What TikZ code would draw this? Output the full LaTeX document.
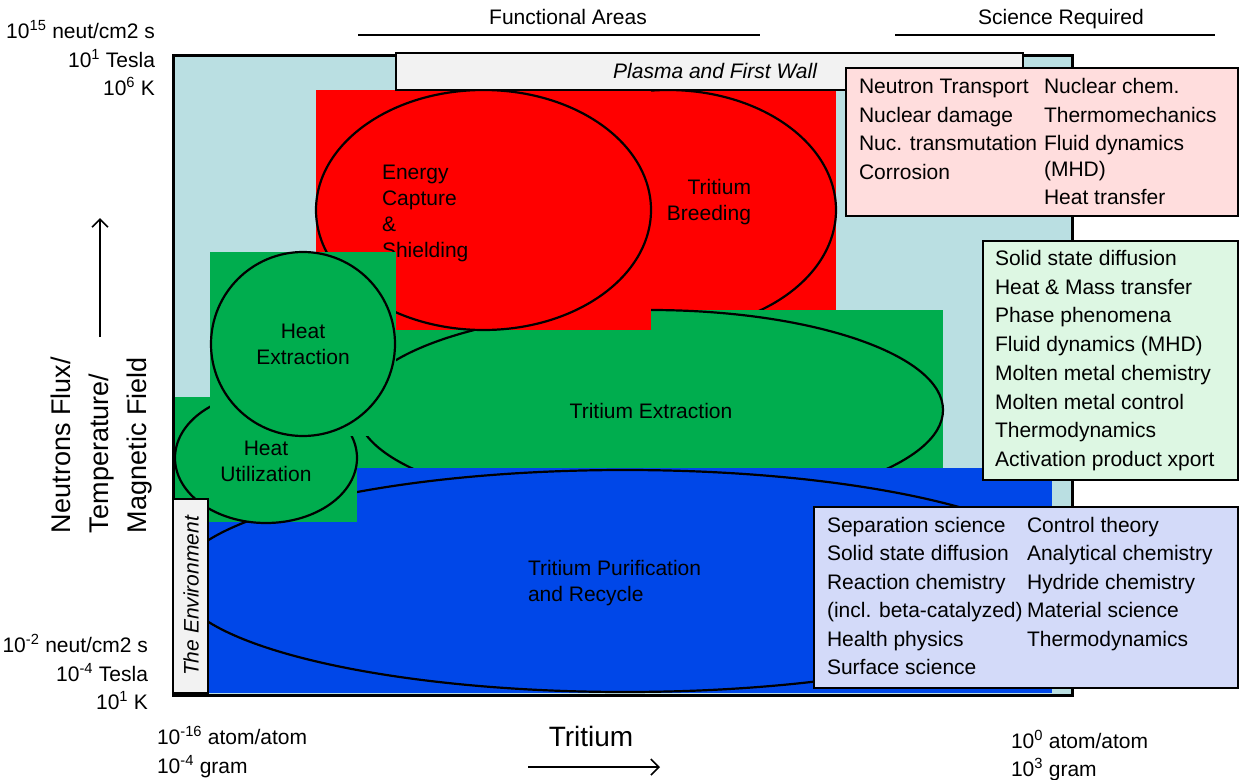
\documentclass[tikz,border=0pt]{standalone}
\usepackage{fontspec}
\setmainfont{Liberation Sans}
\usetikzlibrary{arrows.meta, shapes.geometric, positioning}
\definecolor{frameblue}{HTML}{BADFE2}
\definecolor{hotred}{HTML}{FF0000}
\definecolor{loopgreen}{HTML}{00AD4E}
\definecolor{purblue}{HTML}{0047E8}
\definecolor{wallgray}{HTML}{F2F2F2}
\definecolor{scipink}{HTML}{FFDDDD}
\definecolor{scigreen}{HTML}{DDF7E3}
\definecolor{sciblue}{HTML}{D3DAF9}
\newcommand{\zonefill}[5]
{
	\fill[#1] (#2, #3) rectangle (#4, #5)
}

\begin{document}
\begin{tikzpicture}[x=1pt, y=-1pt,
	every node/.append style={inner sep=0pt, outer sep=0pt},
	blob/.style={shape=ellipse, draw=black, line width=2.2pt},
	txt/.style={font=\fontsize{21}{26}\selectfont},
	list/.style={font=\fontsize{21}{28.5}\selectfont, align=left, anchor=base west},
	panel/.style={draw=black, line width=2.2pt}]

	\useasboundingbox (0, 0) rectangle (1239, 779);

	% frame
	\draw[fill=frameblue, line width=3pt] (173, 55) rectangle (1072, 695);

	\zonefill{hotred}{500}{90}{836}{330};
	\node[blob, fill=hotred, minimum width=336pt, minimum height=240pt] at (668, 210) (breed){};
	\node[txt, align=right, anchor=base east] at (751, 220.5) (breedtext){Tritium\\Breeding};

	\zonefill{loopgreen}{357}{310}{943}{510};
	\node[blob, fill=loopgreen, minimum width=586pt, minimum height=200pt] at (650, 410) (textr){};
	\node[txt] at (651, 411) (textrtext){Tritium Extraction};

	\zonefill{hotred}{316}{90}{651}{330};
	\node[blob, fill=hotred, minimum width=335pt, minimum height=240pt] at (483.5, 210) (ecap){};
	\node[txt, align=left, anchor=base west] at (382, 257.5) (ecaptext){Energy\\Capture\\\&\\Shielding};

	\zonefill{purblue}{177}{468}{1052}{693};
	\node[blob, minimum width=896pt, minimum height=222pt] at (625, 581) (tpur){};
	\node[txt, align=left, anchor=base west] at (528, 601.5) (tpurtext){Tritium Purification\\and Recycle};

	\zonefill{loopgreen}{175}{397}{357}{522};
	\node[blob, fill=loopgreen, minimum width=182pt, minimum height=130pt] at (266, 458) (hutil){};
	\node[txt, align=center, anchor=base] at (266, 481.5) (hutiltext){Heat\\Utilization};

	\zonefill{loopgreen}{210}{252}{396}{436};
	\node[blob, shape=circle, fill=loopgreen, minimum size=184pt] at (303, 344) (hext){};
	\node[txt, align=center, anchor=base] at (303, 364.5) (hexttext){Heat\\Extraction};

	% walls
	\draw[panel, fill=wallgray, line width=2pt] (396, 53) rectangle (1023, 90);
	\node[txt, anchor=base east, font=\fontsize{21}{26}\selectfont\itshape] at (817, 78.5) (wall){Plasma and First Wall};
	\draw[panel, fill=wallgray] (173, 499) rectangle (208, 693);
	\node[txt, rotate=90, font=\fontsize{21}{26}\selectfont\itshape] at (191, 596) (env){The Environment};

	% science
	\draw[panel, fill=scipink] (846, 68) rectangle (1238, 216);
	\node[list] at (859, 179) (pinka){Neutron Transport\\Nuclear damage\\Nuc. transmutation\\Corrosion};
	\node[list] at (1044, 204.5) (pinkb){Nuclear chem.\\Thermomechanics\\Fluid dynamics\\[-3pt](MHD)\\Heat transfer};

	\draw[panel, fill=scigreen] (983, 241) rectangle (1238, 480);
	\node[list, font=\fontsize{21}{28.7}\selectfont] at (995, 466.4) (greena){Solid state diffusion\\Heat \& Mass transfer\\Phase phenomena\\Fluid dynamics (MHD)\\Molten metal chemistry\\Molten metal control\\Thermodynamics\\Activation product xport};

	\draw[panel, fill=sciblue] (814, 507) rectangle (1238, 688);
	\node[list, font=\fontsize{21}{28.4}\selectfont] at (827, 674.5) (bluea){Separation science\\Solid state diffusion\\Reaction chemistry\\(incl. beta-catalyzed)\\Health physics\\Surface science};
	\node[list, font=\fontsize{21}{28.4}\selectfont] at (1027, 646.1) (blueb){Control theory\\Analytical chemistry\\Hydride chemistry\\Material science\\Thermodynamics};

	% headings
	\node[txt, anchor=base] at (568, 24.5) (func){Functional Areas};
	\node[txt, anchor=base] at (1061, 24.5) (scireq){Science Required};
	\draw[line width=2pt] (358, 35) -- (760, 35);
	\draw[line width=2pt] (895, 35) -- (1215, 35);

	% axes
	\node[list, align=right, anchor=base east] at (155, 95.5) (ytop){10\textsuperscript{15} neut/cm2 s\\10\textsuperscript{1} Tesla\\10\textsuperscript{6} K};
	\node[list, align=right, anchor=base east] at (148, 709.5) (ybot){10\textsuperscript{-2} neut/cm2 s\\10\textsuperscript{-4} Tesla\\10\textsuperscript{1} K};
	\node[list, font=\fontsize{21}{29}\selectfont] at (157, 773.5) (xleft){10\textsuperscript{-16} atom/atom\\10\textsuperscript{-4} gram};
	\node[list, font=\fontsize{21}{28}\selectfont] at (1011, 776.5) (xright){10\textsuperscript{0} atom/atom\\10\textsuperscript{3} gram};
	\node[anchor=base, font=\fontsize{28}{34}\selectfont] at (591, 746) (xname){Tritium};
	\node[rotate=90, anchor=base west, align=left, font=\fontsize{27}{38}\selectfont] at (146, 533) (yname){Neutrons Flux/\\Temperature/\\Magnetic Field};
	\coordinate (xfrom) at (528, 767);
	\coordinate (xto) at (660, 767);
	\coordinate (yfrom) at (100, 337);
	\coordinate (yto) at (100, 218);
	\draw[line width=1.6pt, -{Straight Barb[length=8pt, width=16pt]}] (xfrom) -- (xto);
	\draw[line width=1.6pt, -{Straight Barb[length=8pt, width=16pt]}] (yfrom) -- (yto);
\end{tikzpicture}
\end{document}
